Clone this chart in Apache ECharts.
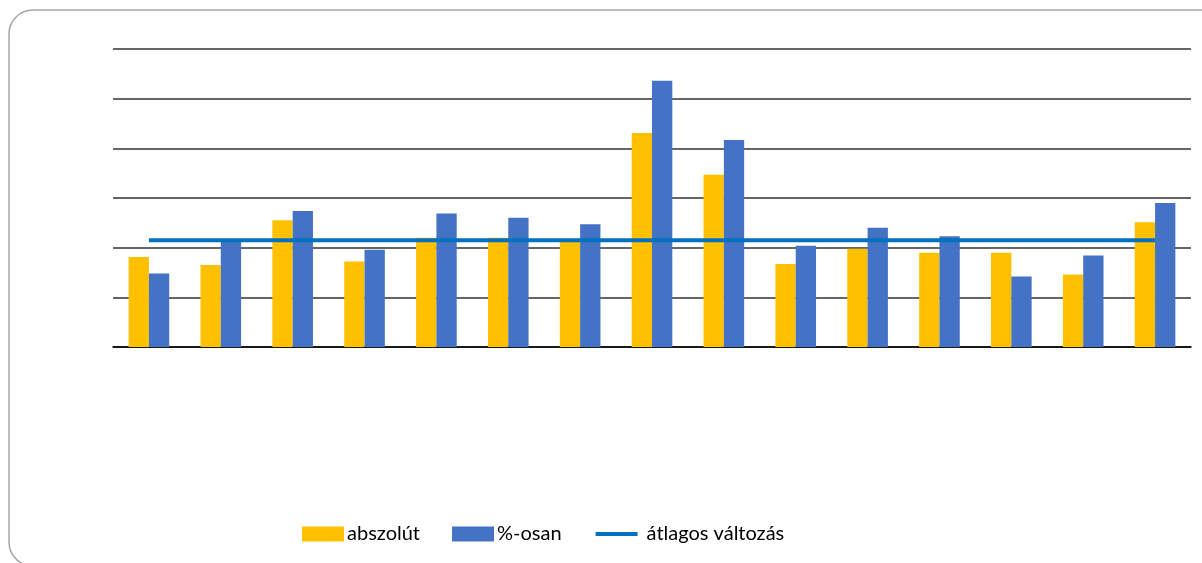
<!DOCTYPE html>
<html>
<head>
<meta charset="utf-8">
<script src="https://cdn.jsdelivr.net/npm/echarts@6/dist/echarts.min.js"></script>
<style>
  html, body { margin: 0; padding: 0; background: #fff; }
  #chart { width: 1202px; height: 563px; }
</style>
</head>
<body>
<div id="chart"></div>
<script>
// 15 kategória, a tengelyfeliratok nem látszanak
const categories = ['1', '2', '3', '4', '5', '6', '7', '8', '9', '10', '11', '12', '13', '14', '15'];
// értékek rácsvonal-egységben leolvasva
const abszolut = [1.81, 1.65, 2.55, 1.72, 2.2, 2.2, 2.13, 4.31, 3.47, 1.67, 1.98, 1.9, 1.9, 1.46, 2.51];
const szazalek = [1.48, 2.15, 2.74, 1.96, 2.69, 2.6, 2.47, 5.36, 4.17, 2.04, 2.4, 2.23, 1.42, 1.84, 2.9];
const atlag = [2.15, 2.15, 2.15, 2.15, 2.15, 2.15, 2.15, 2.15, 2.15, 2.15, 2.15, 2.15, 2.15, 2.15, 2.15];
const legendNames = ['abszolút', '%-osan', 'átlagos változás'];

let myChart = echarts.init(document.getElementById('chart'));
myChart.setOption({
    animation: false,
    textStyle: { fontFamily: 'Lato' },
    graphic: [{
        type: 'rect',
        shape: { x: 9, y: 10, width: 1230, height: 556, r: 24 },
        style: { fill: 'none', stroke: '#a6a6a6', lineWidth: 1.5 },
        silent: true
    }],
    grid: { left: 113, right: 11, top: 49, bottom: 216 },
    legend: {
        left: 297,
        top: 519,
        itemWidth: 42,
        itemHeight: 15,
        itemGap: 32,
        textStyle: { fontSize: 20, color: '#000', fontFamily: 'Lato', padding: [0, 0, 0, -2] },
        data: [
            { name: legendNames[0], icon: 'rect' },
            { name: legendNames[1], icon: 'rect' },
            {
                name: legendNames[2],
                itemStyle: { opacity: 0 },
                lineStyle: { width: 4, color: '#0070C0' },
                textStyle: { padding: [0, 0, 0, 4] }
            }
        ]
    },
    xAxis: {
        type: 'category',
        data: categories,
        axisLine: { lineStyle: { color: '#000', width: 1.5 } },
        axisTick: { show: false },
        axisLabel: { show: false }
    },
    yAxis: {
        type: 'value',
        min: 0,
        max: 6,
        interval: 1,
        axisLabel: { show: false },
        axisLine: { show: false },
        axisTick: { show: false },
        splitLine: { lineStyle: { color: '#333', width: 1.5 } }
    },
    series: [
        {
            name: legendNames[0],
            type: 'bar',
            data: abszolut,
            barGap: '0%',
            barCategoryGap: '43.5%',
            itemStyle: { color: '#FFC000' }
        },
        {
            name: legendNames[1],
            type: 'bar',
            data: szazalek,
            itemStyle: { color: '#4472C4' }
        },
        {
            name: legendNames[2],
            type: 'line',
            data: atlag,
            symbol: 'none',
            z: 5,
            lineStyle: { color: '#0070C0', width: 4 },
            itemStyle: { color: '#0070C0' }
        }
    ]
});
</script>
</body>
</html>
